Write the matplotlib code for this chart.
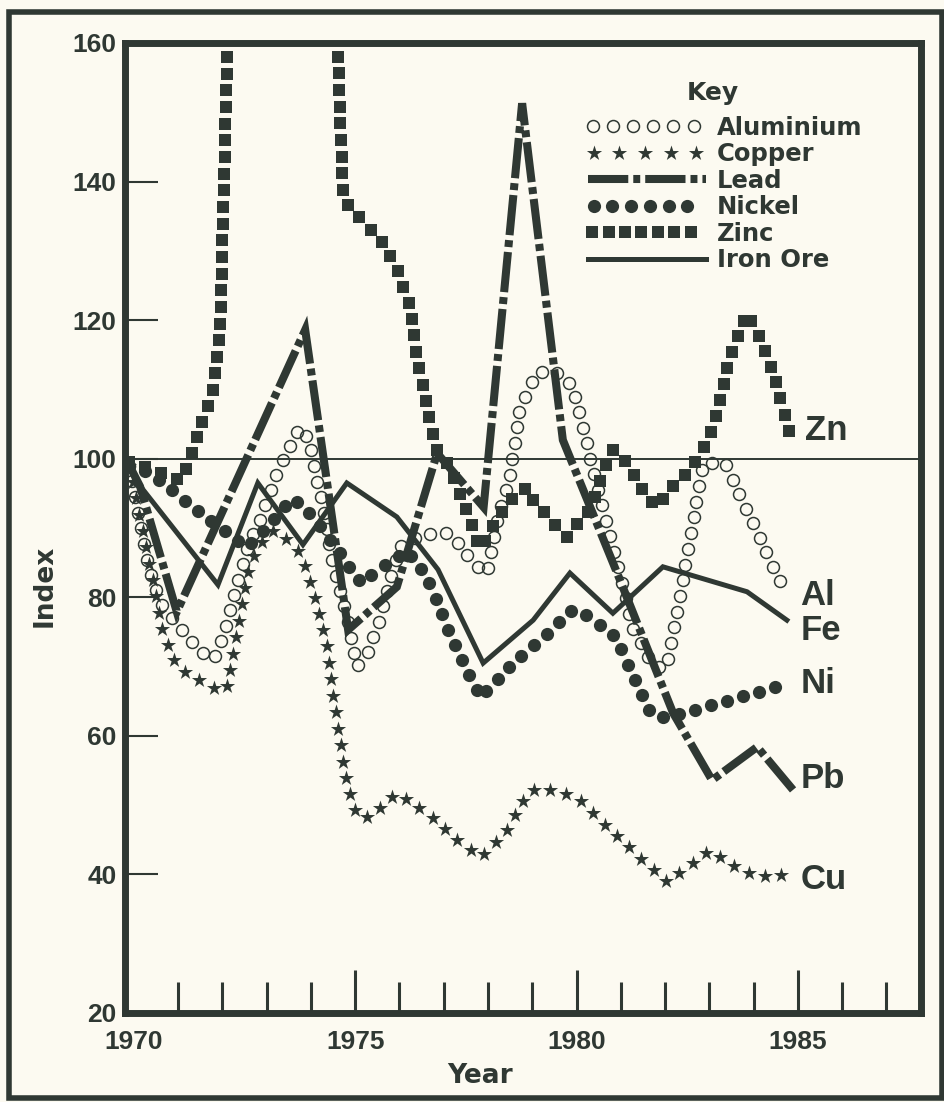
import numpy as np
import matplotlib
matplotlib.use('Agg')
import matplotlib.pyplot as plt
import matplotlib.colors as mcolors
from matplotlib.patheffects import AbstractPathEffect
from matplotlib.markers import MarkerStyle
from matplotlib.path import Path
from matplotlib.transforms import Affine2D
from matplotlib.lines import Line2D
from matplotlib.patches import Rectangle

INK = '#2f3833'
BG = '#fcfaf1'

plt.rcParams['lines.scale_dashes'] = False
plt.rcParams['font.family'] = ['Liberation Sans', 'DejaVu Sans']

# ---------------- data (index, 1970 = 100) ----------------
al_year = [1969.9, 1970.07, 1970.36, 1970.64, 1970.97, 1971.45, 1971.79, 1972.06, 1972.24,
           1972.56, 1972.78, 1973.23, 1973.46, 1973.75, 1973.98, 1974.05, 1974.27, 1974.50,
           1974.81, 1975.04, 1975.27, 1975.56, 1975.72, 1976.01, 1976.46, 1977.14, 1977.66,
           1977.98, 1978.20, 1978.50, 1978.72, 1979.11, 1979.63, 1979.92, 1980.30, 1980.91,
           1981.28, 1981.73, 1982.04, 1982.40, 1982.86, 1983.35, 1984.71]
al_index = [99, 93.0, 83.5, 78.6, 76.3, 72.4, 71.0, 75.3, 79.6,
            87.3, 90.2, 98.0, 100.8, 104.6, 102.3, 99.4, 93.0, 84.4,
            77.2, 70.0, 72.0, 76.7, 81.1, 87.3, 89.0, 89.3, 85.0,
            83.5, 90.7, 98.0, 107.5, 112.5, 112.4, 110.4, 100.3, 85.0,
            75.3, 70.0, 70.0, 82.5, 99.4, 99.4, 80.6]

cu_year = [1969.9, 1970.66, 1970.82, 1970.97, 1971.34, 1971.72, 1972.10, 1972.24, 1972.47,
           1972.62, 1973.01, 1973.23, 1973.75, 1974.05, 1974.36, 1974.59, 1974.81, 1975.04,
           1975.33, 1975.94, 1976.62, 1977.21, 1977.86, 1978.43, 1978.88, 1979.24, 1980.01,
           1980.60, 1981.21, 1982.04, 1983.01, 1983.69, 1984.08, 1984.87]
cu_index = [99, 75.0, 72.4, 70.0, 68.5, 67.1, 66.6, 72.0, 80.1,
            85.0, 89.3, 89.7, 86.4, 81.1, 72.8, 61.9, 53.2, 48.3,
            48.3, 51.8, 48.9, 45.4, 42.5, 46.4, 51.8, 52.5, 51.1,
            47.4, 43.8, 38.9, 43.5, 40.7, 39.7, 40.0]

pb_year = [1969.9, 1970.14, 1970.97, 1973.87, 1974.84, 1975.94, 1976.85, 1977.9, 1978.77,
           1979.69, 1980.98, 1982.18, 1983.06, 1984.08, 1984.89]
pb_index = [99, 96, 77.9, 118.6, 75.3, 81.5, 100.8, 93.0, 151.3,
            102.7, 82.5, 63.3, 53.6, 58.4, 52.2]

ni_year = [1969.9, 1970.36, 1971.11, 1972.10, 1972.56, 1972.95, 1973.57, 1973.91, 1974.66,
           1975.11, 1976.17, 1976.62, 1977.07, 1977.82, 1978.56, 1979.17, 1979.92, 1980.30,
           1980.85, 1981.66, 1982.0, 1984.6]
ni_index = [99, 98.1, 94.1, 89.3, 87.3, 89.7, 94.3, 92.6, 86.4,
            82.1, 86.8, 82.9, 75.7, 65.6, 70.5, 73.9, 78.2, 77.2,
            74.5, 63.3, 62.6, 67.2]

# zinc leaves the top of the scale (values above 160 are off the chart)
zn_year = [1969.9, 1970.30, 1970.75, 1971.04, 1971.20, 1971.43, 1971.79, 1971.95, 1972.16,
           1974.55, 1974.72, 1974.88, 1975.56, 1975.94, 1976.24, 1976.40, 1976.69, 1976.85,
           1977.07, 1977.37, 1977.82, 1978.20, 1978.43, 1978.88, 1979.02, 1979.47, 1979.78,
           1980.01, 1980.30, 1980.69, 1980.82, 1981.14, 1981.50, 1981.82, 1982.04, 1982.56,
           1982.79, 1983.08, 1983.47, 1983.85, 1984.21, 1984.53, 1984.82]
zn_index = [99.5, 98.7, 97.7, 96.9, 98.8, 103.1, 109.9, 118.1, 172,
            172, 137.8, 136.3, 131.6, 127.7, 121.9, 114.7, 105.2, 101.3,
            99.4, 95.1, 87.1, 91.2, 93.6, 95.9, 94.1, 90.7, 88.7,
            90.7, 92.6, 99.4, 101.3, 99.4, 95.2, 93.0, 95.1, 98.4,
            100.5, 104.6, 114.7, 121.0, 116.7, 110.4, 103.7]

fe_year = [1969.9, 1970.15, 1971.9, 1972.8, 1973.82, 1974.81, 1975.94, 1976.87, 1977.89,
           1979.02, 1979.85, 1980.82, 1981.95, 1983.85, 1984.75]
fe_index = [99, 96, 81.8, 96.5, 87.6, 96.5, 91.6, 84.0, 70.5,
            76.7, 83.5, 77.7, 84.4, 80.8, 76.7]

legend_names = ['Aluminium', 'Copper', 'Lead', 'Nickel', 'Zinc', 'Iron Ore']
end_labels = ['Zn', 'Al', 'Fe', 'Ni', 'Pb', 'Cu']
end_label_year = [1985.16, 1985.05, 1985.05, 1985.05, 1985.05, 1985.05]
end_label_index = [104.0, 80.2, 75.2, 67.5, 53.8, 39.3]

year_ticks = [1970, 1975, 1980, 1985]
year_minor = list(range(1971, 1988))
index_ticks = [20, 40, 60, 80, 100, 120, 140, 160]


# ---------------- marker-along-path rendering ----------------
class MarkersAlong(AbstractPathEffect):
    """Draw a marker repeatedly along the stroked path at a fixed spacing (points)."""

    def __init__(self, marker, spacing, size, face, edge, lw=0.0, start=0.0):
        super().__init__()
        self._marker = marker
        self._spacing = spacing
        self._size = size
        self._face = face
        self._edge = edge
        self._lw = lw
        self._start = start

    def draw_path(self, renderer, gc, tpath, affine, rgbFace=None):
        verts = affine.transform(tpath.vertices)
        verts = verts[np.all(np.isfinite(verts), axis=1)]
        if len(verts) < 2:
            return
        seg = np.hypot(*np.diff(verts, axis=0).T)
        keep = np.concatenate([[True], seg > 1e-9])
        verts = verts[keep]
        cum = np.concatenate([[0.0], np.cumsum(np.hypot(*np.diff(verts, axis=0).T))])
        sp = renderer.points_to_pixels(self._spacing)
        s = np.arange(renderer.points_to_pixels(self._start), cum[-1] + 1e-6, sp)
        pts = np.column_stack([np.interp(s, cum, verts[:, 0]),
                               np.interp(s, cum, verts[:, 1])])
        ms = MarkerStyle(self._marker)
        mtrans = ms.get_transform() + Affine2D().scale(renderer.points_to_pixels(self._size))
        gc0 = renderer.new_gc()
        gc0.copy_properties(gc)
        gc0.set_dashes(0, None)
        gc0.set_linewidth(self._lw)
        gc0.set_foreground(self._edge)
        gc0.set_joinstyle('miter')
        face = None if self._face is None else mcolors.to_rgba(self._face)
        renderer.draw_markers(gc0, ms.get_path(), mtrans, Path(pts), Affine2D(), face)
        gc0.restore()


AL_FX = dict(marker='o', size=8.6, face=None, edge=INK, lw=1.1)
CU_FX = dict(marker='*', size=11.5, face=INK, edge=INK, lw=0)
NI_FX = dict(marker='o', size=9.5, face=INK, edge=INK, lw=0)
ZN_FX = dict(marker='s', size=8.2, face=INK, edge=INK, lw=0)
PB_STYLE = dict(color=INK, lw=5.8, linestyle=(0, (29, 3.6, 5, 3.6)),
                dash_capstyle='butt', dash_joinstyle='miter')
FE_STYLE = dict(color=INK, lw=3.6, solid_joinstyle='miter')

# ---------------- figure ----------------
fig = plt.figure(figsize=(9.45, 11.02), dpi=100, facecolor=BG)
ax = fig.add_axes([125 / 945, 1 - 1013 / 1102, 796 / 945, 970 / 1102])
ax.set_facecolor(BG)
ax.set_xlim(1969.8, 1987.78)
ax.set_ylim(20, 160)

ax.axhline(100, color=INK, lw=1.4, zorder=1)

h_fe, = ax.plot(fe_year, fe_index, zorder=2, **FE_STYLE)
h_pb, = ax.plot(pb_year, pb_index, zorder=2.1, **PB_STYLE)
h_ni, = ax.plot(ni_year, ni_index, color=INK, lw=1, zorder=2.2)
h_ni.set_path_effects([MarkersAlong(spacing=12.0, **NI_FX)])
h_zn, = ax.plot(zn_year, zn_index, color=INK, lw=1, zorder=2.3)
h_zn.set_path_effects([MarkersAlong(spacing=12.0, **ZN_FX)])
h_cu, = ax.plot(cu_year, cu_index, color=INK, lw=1, zorder=2.4)
h_cu.set_path_effects([MarkersAlong(spacing=12.0, **CU_FX)])
h_al, = ax.plot(al_year, al_index, color=INK, lw=1, zorder=2.5)
h_al.set_path_effects([MarkersAlong(spacing=11.5, **AL_FX)])

for lab, yx, yv in zip(end_labels, end_label_year, end_label_index):
    ax.text(yx, yv, lab, ha='left', va='center', fontsize=25, fontweight='bold', color=INK)

# axes frame
for sp in ax.spines.values():
    sp.set_linewidth(5)
    sp.set_color(INK)
    sp.set_zorder(5)

ax.set_xticks(year_ticks)
ax.set_xticks([y for y in year_minor if y not in year_ticks], minor=True)
ax.set_yticks(index_ticks)
ax.tick_params(axis='x', which='major', direction='in', length=31, width=2.2, color=INK,
               labelsize=19, labelcolor=INK, pad=12)
ax.tick_params(axis='x', which='minor', direction='in', length=22, width=2.2, color=INK)
ax.tick_params(axis='y', which='major', direction='in', length=24, width=1.5, color=INK,
               labelsize=19, labelcolor=INK, pad=6)
for lbl in ax.get_xticklabels() + ax.get_yticklabels():
    lbl.set_fontweight('bold')
ax.xaxis.get_major_ticks()[0].tick1line.set_visible(False)

fig.text(45 / 945, 1 - 586 / 1102, 'Index', rotation=90, ha='center', va='center',
         fontsize=19, fontweight='bold', color=INK, family='DejaVu Sans')
fig.text(480 / 945, 1 - 1076 / 1102, 'Year', ha='center', va='center',
         fontsize=19, fontweight='bold', color=INK, family='DejaVu Sans')

# ---------------- key ----------------
k_al = Line2D([], [], color=INK, lw=1)
k_al.set_path_effects([MarkersAlong(spacing=14.5, start=3.5, **AL_FX)])
k_cu = Line2D([], [], color=INK, lw=1)
k_cu.set_path_effects([MarkersAlong(spacing=18.5, start=4, **CU_FX)])
k_pb = Line2D([], [], **PB_STYLE)
k_ni = Line2D([], [], color=INK, lw=1)
k_ni.set_path_effects([MarkersAlong(spacing=13.5, start=4, **NI_FX)])
k_zn = Line2D([], [], color=INK, lw=1)
k_zn.set_path_effects([MarkersAlong(spacing=11.8, start=3, **ZN_FX)])
k_fe = Line2D([], [], **FE_STYLE)

leg = ax.legend([k_al, k_cu, k_pb, k_ni, k_zn, k_fe], legend_names,
                loc='upper left', bbox_to_anchor=((588 - 125) / 796, (1013 - 116) / 970),
                frameon=False, handlelength=4.85, handletextpad=0.45,
                labelspacing=0.1, borderpad=0, borderaxespad=0,
                prop={'family': 'DejaVu Sans', 'weight': 'bold', 'size': 17.5})
for t in leg.get_texts():
    t.set_color(INK)
leg.set_zorder(6)
ax.text((713 - 125) / 796, (1013 - 93) / 970, 'Key', transform=ax.transAxes,
        ha='center', va='center', fontsize=18, fontweight='bold', color=INK,
        family='DejaVu Sans', zorder=6)

# outer border of the figure
fig.patches.append(Rectangle((9 / 945, 1 - 1098 / 1102), 933 / 945, 1086 / 1102,
                             transform=fig.transFigure, fill=False, ec=INK, lw=4))

fig.savefig('out.png', dpi=100, facecolor=BG)
